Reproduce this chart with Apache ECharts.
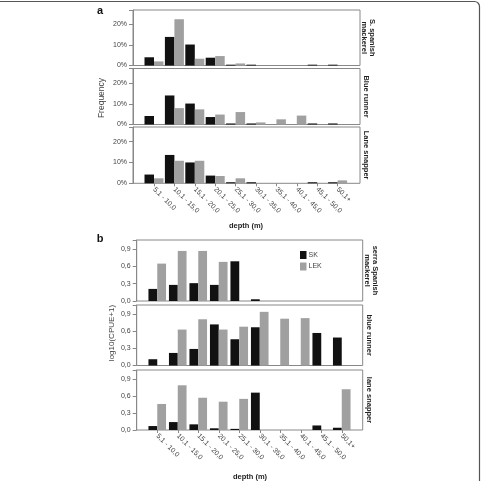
<!DOCTYPE html>
<html>
<head>
<meta charset="utf-8">
<script src="https://cdn.jsdelivr.net/npm/echarts@6/dist/echarts.min.js"></script>
<style>
  html, body { margin: 0; padding: 0; background: #fff; }
  #chart { width: 482px; height: 481px; }
</style>
</head>
<body>
<div id="chart"></div>
<script>
// depth classes (m)
var categories = ['5,1 - 10,0', '10,1 - 15,0', '15,1 - 20,0', '20,1 - 25,0', '25,1 - 30,0',
                  '30,1 - 35,0', '35,1 - 40,0', '40,1 - 45,0', '45,1 - 50,0', '50,1+'];

// panel a: frequency (%)
var aMackerelBlack = [4.0, 13.9, 10.2, 3.8, 0.4, 0.4, 0, 0, 0.4, 0.4];
var aMackerelGray  = [2.0, 22.5, 3.3, 4.6, 1.0, 0, 0, 0, 0, 0];
var aRunnerBlack   = [4.1, 14.0, 10.1, 3.6, 0.5, 0.5, 0, 0, 0.5, 0.5];
var aRunnerGray    = [0, 7.9, 7.3, 4.8, 6.0, 1.0, 2.5, 4.3, 0, 0];
var aSnapperBlack  = [4.2, 13.6, 10.0, 3.7, 0.5, 0.5, 0, 0, 0.5, 0.5];
var aSnapperGray   = [2.4, 10.8, 10.8, 3.5, 2.4, 0, 0, 0, 0, 1.4];

// panel b: log10(CPUE+1)
var bMackerelSK  = [0.21, 0.28, 0.31, 0.28, 0.69, 0.03, 0, 0, 0, 0];
var bMackerelLEK = [0.65, 0.87, 0.87, 0.68, 0, 0, 0, 0, 0, 0];
var bRunnerSK    = [0.11, 0.22, 0.29, 0.72, 0.46, 0.67, 0, 0, 0.57, 0.49];
var bRunnerLEK   = [0, 0.63, 0.81, 0.63, 0.68, 0.94, 0.82, 0.83, 0, 0];
var bSnapperSK   = [0.07, 0.14, 0.10, 0.03, 0.02, 0.66, 0, 0, 0.08, 0.04];
var bSnapperLEK  = [0.46, 0.79, 0.57, 0.50, 0.55, 0, 0, 0, 0, 0.72];

var aTicks = [0, 10, 20];
var bTicks = [0, 0.3, 0.6, 0.9];

var FONT = 'Liberation Sans, Arial, sans-serif';
var BLACK = '#111';
var GRAY = '#a0a0a0';
var LINE = '#888';

// layout of the six sub-plots
var panels = [
  { box: [133, 10, 360, 65.5], band: [143.8, 204], max: 27, ticks: aTicks, pct: true, label: 'S. spanish\nmackerel', k: [aMackerelBlack, aMackerelGray], bottom: false, bw: 9.5 },
  { box: [133, 68.5, 360, 124.5], band: [143.8, 204], max: 27, ticks: aTicks, pct: true, label: 'Blue runner', k: [aRunnerBlack, aRunnerGray], bottom: false, bw: 9.5 },
  { box: [133, 127, 360, 183.3], band: [143.8, 204], max: 27, ticks: aTicks, pct: true, label: 'Lane snapper', k: [aSnapperBlack, aSnapperGray], bottom: true, bw: 9.5 },
  { box: [136.7, 240, 362.7, 301], band: [147, 205], max: 1.06, ticks: bTicks, pct: false, label: 'serra Spanish\nmackerel', k: [bMackerelSK, bMackerelLEK], bottom: false, bw: 8.8 },
  { box: [136.7, 305, 362.7, 365.5], band: [147, 205], max: 1.06, ticks: bTicks, pct: false, label: 'blue runner', k: [bRunnerSK, bRunnerLEK], bottom: false, bw: 8.8 },
  { box: [136.7, 370, 362.7, 430], band: [147, 205], max: 1.06, ticks: bTicks, pct: false, label: 'lane snapper', k: [bSnapperSK, bSnapperLEK], bottom: true, bw: 8.8 }
];

var grids = [], xAxes = [], yAxes = [], series = [], graphics = [];

panels.forEach(function (p, i) {
  var b = p.box;
  grids.push({ left: p.band[0], width: p.band[1], top: b[1], height: b[3] - b[1] });
  xAxes.push({
    type: 'category', gridIndex: i, data: categories,
    axisLine: { show: false },
    axisTick: { show: p.bottom, alignWithLabel: true, length: 3, lineStyle: { color: LINE } },
    axisLabel: { show: p.bottom, rotate: -45, fontSize: 7, margin: 5, color: '#444', fontFamily: FONT, interval: 0 }
  });
  var ticks = p.ticks;
  yAxes.push({
    type: 'value', gridIndex: i, min: 0, max: p.max,
    interval: ticks[1] - ticks[0],
    offset: p.band[0] - b[0],
    splitLine: { show: false },
    axisLine: { show: true, lineStyle: { color: LINE } },
    axisTick: { show: true, length: 4, lineStyle: { color: LINE } },
    axisLabel: {
      fontSize: 7, margin: 6, color: '#444', fontFamily: FONT,
      formatter: function (v) {
        for (var t = 0; t < ticks.length; t++) {
          if (Math.abs(v - ticks[t]) < 1e-6) {
            return p.pct ? ticks[t] + '%' : ticks[t].toFixed(1).replace('.', ',');
          }
        }
        return '';
      }
    }
  });
  series.push({ name: 'SK', type: 'bar', xAxisIndex: i, yAxisIndex: i, data: p.k[0], barWidth: p.bw, barGap: '0%', itemStyle: { color: BLACK }, silent: true });
  series.push({ name: 'LEK', type: 'bar', xAxisIndex: i, yAxisIndex: i, data: p.k[1], barWidth: p.bw, barGap: '0%', itemStyle: { color: GRAY }, silent: true });

  // sub-plot frame
  graphics.push({ type: 'rect', shape: { x: b[0], y: b[1], width: b[2] - b[0], height: b[3] - b[1] }, style: { fill: null, stroke: LINE, lineWidth: 1 }, silent: true });
  // side label
  graphics.push({
    type: 'text', x: b[2] + (p.label.indexOf('\n') >= 0 ? 8.5 : 6.5), y: (b[1] + b[3]) / 2, rotation: -Math.PI / 2,
    style: { text: p.label, fontSize: 7.5, fontWeight: 'bold', fill: '#222', fontFamily: FONT, align: 'center', verticalAlign: 'middle', lineHeight: 8 }
  });
});

// panel letters, axis names, outer border
graphics.push(
  { type: 'text', x: 100, y: 11, style: { text: 'a', fontSize: 11, fontWeight: 'bold', fill: '#111', fontFamily: FONT, align: 'center', verticalAlign: 'middle' } },
  { type: 'text', x: 100, y: 239, style: { text: 'b', fontSize: 11, fontWeight: 'bold', fill: '#111', fontFamily: FONT, align: 'center', verticalAlign: 'middle' } },
  { type: 'text', x: 102, y: 98, rotation: Math.PI / 2, style: { text: 'Frequency', fontSize: 8.5, fill: '#444', fontFamily: FONT, align: 'center', verticalAlign: 'middle' } },
  { type: 'text', x: 112, y: 333, rotation: Math.PI / 2, style: { text: 'log10(CPUE+1)', fontSize: 8, fill: '#444', fontFamily: FONT, align: 'center', verticalAlign: 'middle' } },
  { type: 'text', x: 246, y: 226, style: { text: 'depth (m)', fontSize: 7.5, fontWeight: 'bold', fill: '#222', fontFamily: FONT, align: 'center', verticalAlign: 'middle' } },
  { type: 'text', x: 250, y: 477, style: { text: 'depth (m)', fontSize: 7.5, fontWeight: 'bold', fill: '#222', fontFamily: FONT, align: 'center', verticalAlign: 'middle' } },
  { type: 'rect', shape: { x: -6, y: 1.5, width: 485.5, height: 495, r: 5 }, style: { fill: null, stroke: '#555', lineWidth: 1.2 }, silent: true }
);

var chart = echarts.init(document.getElementById('chart'), null, { renderer: 'canvas' });
chart.setOption({
  animation: false,
  backgroundColor: '#fff',
  legend: {
    data: ['SK', 'LEK'], orient: 'vertical', left: 300, top: 251, padding: 0,
    itemWidth: 6.5, itemHeight: 8, itemGap: 3.5, icon: 'rect', selectedMode: false,
    textStyle: { fontSize: 7, color: '#444', fontFamily: FONT, padding: [0, 0, 0, -3] }
  },
  grid: grids,
  xAxis: xAxes,
  yAxis: yAxes,
  series: series,
  graphic: graphics
});
</script>
</body>
</html>
